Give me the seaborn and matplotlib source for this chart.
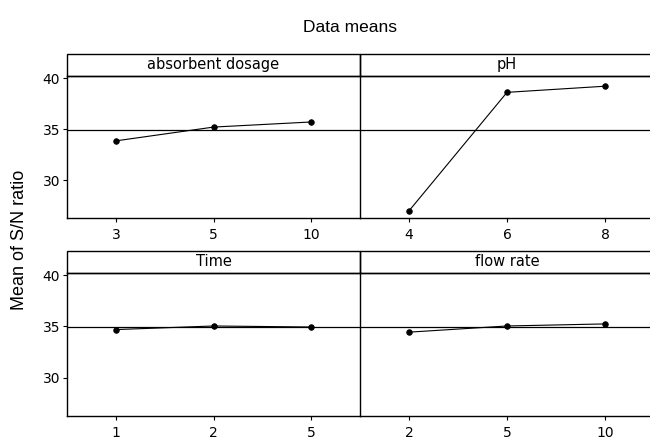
import numpy as np
import matplotlib
matplotlib.use("Agg")
import matplotlib.pyplot as plt
import seaborn as sns
import pandas as pd
from matplotlib.patches import Rectangle

# main effects (data means of S/N ratio)
factors = ["absorbent dosage", "pH", "Time", "flow rate"]
levels_absorbent = ["3", "5", "10"]
levels_ph = ["4", "6", "8"]
levels_time = ["1", "2", "5"]
levels_flow = ["2", "5", "10"]
sn_absorbent = [33.85, 35.2, 35.7]
sn_ph = [27.0, 38.6, 39.2]
sn_time = [34.7, 35.05, 34.95]
sn_flow = [34.45, 35.05, 35.25]
y_ticks = [30, 35, 40]

levels = [levels_absorbent, levels_ph, levels_time, levels_flow]
values = [sn_absorbent, sn_ph, sn_time, sn_flow]
grand_mean = np.mean(sn_ph)

sns.set_style("white")
plt.rcParams['font.family'] = ['Liberation Sans', 'DejaVu Sans']
plt.rcParams['text.color'] = 'black'
plt.rcParams['xtick.color'] = 'black'
plt.rcParams['ytick.color'] = 'black'

fig = plt.figure(figsize=(6.5, 4.4), dpi=100)
W, H = 650, 440
# axes boxes in pixels: left, top, right, bottom
boxes = [(67, 76, 360, 218), (360, 76, 654, 218),
         (67, 273, 360, 416), (360, 273, 654, 416)]

for i, (fac, lv, vals) in enumerate(zip(factors, levels, values)):
    l, t, r, b = boxes[i]
    ax = fig.add_axes([l / W, 1 - b / H, (r - l) / W, (b - t) / H])
    ax.patch.set_alpha(0)
    df = pd.DataFrame({"level": lv, "sn": vals})
    sns.pointplot(data=df, x="level", y="sn", order=lv, color="black",
                  markers="o", markersize=4, linewidth=0.8,
                  errorbar=None, ax=ax)
    ax.axhline(grand_mean, color="black", lw=0.9, zorder=1)
    ax.set_xlim(-0.5, 2.5)
    ax.set_ylim(26.3, 40.2)
    ax.set_xlabel("")
    ax.set_ylabel("")
    for s in ax.spines.values():
        s.set_color("black")
        s.set_linewidth(1.0)
    ax.tick_params(axis="x", length=3, width=0.8, labelsize=10, pad=4,
                   bottom=True)
    ax.set_yticks(y_ticks)
    if i % 2 == 0:
        ax.tick_params(axis="y", length=3, width=0.8, labelsize=10,
                       left=True, pad=2)
    else:
        ax.tick_params(axis="y", left=False, labelleft=False)
        ax.spines["left"].set_visible(False)
    for lab in ax.get_xticklabels() + ax.get_yticklabels():
        lab.set_family("DejaVu Sans")
    # strip on top
    sh = 22 / (b - t)
    ax.add_patch(Rectangle((0, 1), 1, sh, transform=ax.transAxes,
                           fill=False, edgecolor="black", lw=1.0,
                           clip_on=False))
    ax.text(0.5, 1 + sh / 2, fac, transform=ax.transAxes, ha="center",
            va="center", fontsize=10.5, family=["DejaVu Sans"])

fig.text(0.538, 1 - 28 / H, "Data means", ha="center", va="center",
         fontsize=12.5)
fig.text(20 / W, 1 - 240 / H, "Mean of S/N ratio", ha="center",
         va="center", rotation=90, fontsize=13)

fig.savefig("out.png", dpi=100)
